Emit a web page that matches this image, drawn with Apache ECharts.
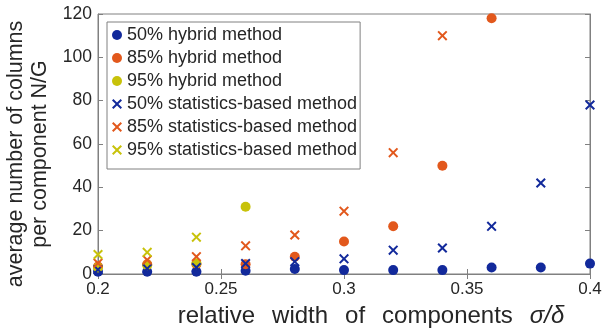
<!DOCTYPE html>
<html><head><meta charset="utf-8">
<script src="https://cdn.jsdelivr.net/npm/echarts@6/dist/echarts.min.js"></script>
<style>html,body{margin:0;padding:0;background:#fff}#c{width:604px;height:332px}</style>
</head><body><div id="c"></div><script>
// relative width of components sigma/delta
const widths = [0.20, 0.22, 0.24, 0.26, 0.28, 0.30, 0.32, 0.34, 0.36, 0.38, 0.40];
const hybrid50 = [1, 1, 1, 1.5, 2.3, 1.8, 1.8, 1.8, 3, 3, 4.8];
const hybrid85 = [3.5, 4.5, 4.5, 4.5, 8, 15, 22, 50, 118];
const hybrid95 = [3, 4, 5, 31];
const stat50 = [2, 2.5, 3, 4.8, 5.7, 7, 11, 12, 22, 42, 78];
const stat85 = [5, 6.5, 8, 13, 18, 29, 56, 110];
const stat95 = [9, 10, 17];
const yTicks = [0, 20, 40, 60, 80, 100, 120];
const names = ['50% hybrid method', '85% hybrid method', '95% hybrid method',
  '50% statistics-based method', '85% statistics-based method', '95% statistics-based method'];

const BLUE = '#12299b', ORANGE = '#e2581c', YELLOW = '#c8c20a';
const d = 1.4;
const XPATH = 'path://M0,' + d + 'L' + d + ',0L5,' + (5 - d) + 'L' + (10 - d) + ',0L10,' + d + 'L' + (5 + d) + ',5L10,' + (10 - d) +
  'L' + (10 - d) + ',10L5,' + (5 + d) + 'L' + d + ',10L0,' + (10 - d) + 'L' + (5 - d) + ',5Z';

function pairs(vals) { return vals.map((v, i) => [widths[i], v]); }

const chart = echarts.init(document.getElementById('c'), null, {renderer: 'canvas'});
const FONT = 'Liberation Sans, Arial, sans-serif';
const axisCol = '#808080', txtCol = '#262626';

function mk(name, vals, color, isX, z) {
  return {
    name: name, type: 'scatter', data: pairs(vals),
    symbol: isX ? XPATH : 'circle', symbolSize: 10,
    itemStyle: {color: color, opacity: 1}, z: z,
    emphasis: {disabled: true}
  };
}

const tSt = {fontSize: 24, color: txtCol, fontFamily: FONT};
chart.setOption({
  animation: false,
  backgroundColor: '#fff',
  textStyle: {fontFamily: FONT},
  grid: {left: 98, right: 14, top: 14, bottom: 58, show: true, borderColor: axisCol, borderWidth: 1,
         containLabel: false, outerBoundsMode: 'none'},
  legend: {
    orient: 'vertical', left: 107, top: 22,
    borderColor: axisCol, borderWidth: 1, backgroundColor: '#fff',
    padding: [4, 3, 10, 5],
    itemWidth: 10, itemHeight: 10, itemGap: 5,
    textStyle: {fontFamily: FONT, fontSize: 18, color: txtCol, lineHeight: 18},
    data: [
      {name: names[0], icon: 'circle'}, {name: names[1], icon: 'circle'}, {name: names[2], icon: 'circle'},
      {name: names[3], icon: XPATH}, {name: names[4], icon: XPATH}, {name: names[5], icon: XPATH}
    ]
  },
  xAxis: [{
    type: 'value', min: 0.2, max: 0.4, interval: 0.05,
    axisLine: {show: true, lineStyle: {color: axisCol}},
    axisTick: {show: true, inside: true, length: 5, lineStyle: {color: axisCol}},
    splitLine: {show: false},
    axisLabel: {color: txtCol, fontSize: 17, fontFamily: FONT, margin: 7, formatter: v => String(+v.toFixed(2))},
    name: '{a|relative}{s|}{a|width}{s|}{a|of}{s|}{a|components}{s|}{i|σ/δ}',
    nameLocation: 'middle', nameGap: 30,
    nameTextStyle: {padding: [0, 0, 0, 54], rich: {a: tSt, s: {width: 17, fontSize: 24}, i: Object.assign({}, tSt, {fontStyle: 'italic'})}}
  }, {
    type: 'value', position: 'top', min: 0.2, max: 0.4, interval: 0.05,
    axisLine: {show: true, lineStyle: {color: axisCol}},
    axisTick: {show: true, inside: true, length: 5, lineStyle: {color: axisCol}},
    axisLabel: {show: false}, splitLine: {show: false}
  }],
  yAxis: [{
    type: 'value', min: yTicks[0], max: yTicks[yTicks.length - 1], interval: 20,
    axisLine: {show: true, lineStyle: {color: axisCol}},
    axisTick: {show: true, inside: true, length: 5, lineStyle: {color: axisCol}},
    splitLine: {show: false},
    axisLabel: {color: txtCol, fontSize: 17.5, fontFamily: FONT, margin: 6},
    name: 'average number of columns\nper component N/G',
    nameLocation: 'middle', nameGap: 42,
    nameTextStyle: {fontSize: 21.5, color: txtCol, fontFamily: FONT, lineHeight: 24, padding: [0, 20, 0, 0]}
  }, {
    type: 'value', position: 'right', min: 0, max: 120, interval: 20,
    axisLine: {show: true, lineStyle: {color: axisCol}},
    axisTick: {show: true, inside: true, length: 5, lineStyle: {color: axisCol}},
    axisLabel: {show: false}, splitLine: {show: false}
  }],
  series: [
    mk(names[0], hybrid50, BLUE, false, 2),
    mk(names[1], hybrid85, ORANGE, false, 2),
    mk(names[2], hybrid95, YELLOW, false, 2),
    mk(names[3], stat50, BLUE, true, 3),
    mk(names[4], stat85, ORANGE, true, 3),
    mk(names[5], stat95, YELLOW, true, 3)
  ]
});
</script></body></html>
